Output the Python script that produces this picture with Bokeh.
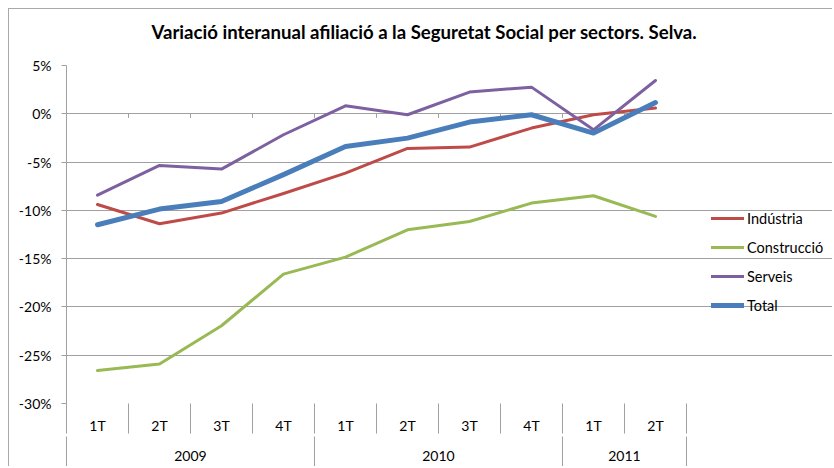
from bokeh.plotting import figure
from bokeh.models import (Range1d, LinearAxis, FixedTicker, Legend, LegendItem,
                          ColumnDataSource, Grid)
from bokeh.embed import file_html
from bokeh.resources import INLINE

# ---------------- data ----------------
years = ["2009", "2010", "2011"]
quarters_per_year = [4, 4, 2]
quarters = ["1T", "2T", "3T", "4T", "1T", "2T", "3T", "4T", "1T", "2T"]

industria = [-9.39, -11.39, -10.28, -8.25, -6.14, -3.59, -3.45, -1.48, -0.10, 0.59]
construccio = [-26.58, -25.92, -21.95, -16.60, -14.84, -12.01, -11.15, -9.25, -8.49, -10.63]
serveis = [-8.42, -5.35, -5.73, -2.17, 0.83, -0.10, 2.25, 2.76, -1.66, 3.45]
total = [-11.49, -9.87, -9.08, -6.30, -3.39, -2.52, -0.86, -0.10, -2.00, 1.17]

series_names = ["Indústria", "Construcció", "Serveis", "Total"]
series_values = [industria, construccio, serveis, total]
series_colors = ["#be4b48", "#98b954", "#7d60a0", "#4a7ebb"]
series_widths = [3, 3, 3, 5]

y_ticks = [-30, -25, -20, -15, -10, -5, 0, 5]
y_labels = ["-30%", "-25%", "-20%", "-15%", "-10%", "-5%", "0%", "5%"]

title_text = "Variació interanual afiliació a la Seguretat Social per sectors. Selva."

# ---------------- positions (category i is centred at 2*i+1) ----------------
n = len(quarters)
xc = [2 * i + 1 for i in range(n)]
bounds = [2 * i for i in range(n + 1)]
year_bounds = [0]
for k in quarters_per_year:
    year_bounds.append(year_bounds[-1] + 2 * k)
year_centers = [(year_bounds[i] + year_bounds[i + 1]) // 2 for i in range(len(years))]

FONT = "Lato"
GRID = "#a0a0a0"
TXT = "#000000"

W, H = 824, 458
left, top, bottom = 57, 56, 394
frame_w = W - left
x_end = bounds[-1] * frame_w / 620.0

p = figure(width=W, height=H, output_backend="svg", toolbar_location=None,
           x_range=Range1d(0, x_end), y_range=Range1d(-30, 5),
           x_axis_type=None, y_axis_type=None,
           min_border_left=left, min_border_top=top, min_border_right=0,
           min_border_bottom=H - bottom, outline_line_color=None,
           background_fill_color="white", border_fill_color="white")
p.styles = {"margin-left": "8px", "margin-top": "8px",
            "border-left": "1px solid #a8a8a8", "border-top": "1px solid #a8a8a8"}

# invisible spacer between the plot area and the title
spacer = LinearAxis(ticker=FixedTicker(ticks=[1], minor_ticks=[]),
                    major_label_overrides={1: ""})
spacer.axis_line_color = None
spacer.major_tick_line_color = None
spacer.minor_tick_line_color = None
spacer.major_tick_out = 15
spacer.major_tick_in = 0
spacer.major_label_standoff = 0
spacer.major_label_text_font_size = "0px"
spacer.major_label_text_color = None
p.add_layout(spacer, "above")

p.title.text = title_text
p.title.text_font = FONT
p.title.text_font_style = "bold"
p.title.text_font_size = "18.6px"
p.title.text_color = TXT
p.title.align = "left"
p.title.offset = 85
p.title.standoff = 16

# y axis
yax = LinearAxis(ticker=FixedTicker(ticks=y_ticks, minor_ticks=[]),
                 major_label_overrides={t: l for t, l in zip(y_ticks, y_labels)})
yax.axis_line_color = GRID
yax.major_tick_line_color = GRID
yax.major_tick_out = 5
yax.major_tick_in = 0
yax.minor_tick_line_color = None
yax.major_label_standoff = 10
yax.major_label_text_font = FONT
yax.major_label_text_font_size = "14px"
yax.major_label_text_color = TXT
p.add_layout(yax, "left")

# quarter axis
qax = LinearAxis(ticker=FixedTicker(ticks=xc, minor_ticks=bounds),
                 major_label_overrides={x: q for x, q in zip(xc, quarters)})
qax.axis_line_color = None
qax.major_tick_line_color = None
qax.minor_tick_line_color = GRID
qax.minor_tick_out = 30
qax.minor_tick_in = 0
qax.major_label_standoff = -17
qax.major_label_text_font = FONT
qax.major_label_text_font_size = "14px"
qax.major_label_text_color = TXT
p.add_layout(qax, "below")

# year axis
yrax = LinearAxis(ticker=FixedTicker(ticks=year_centers, minor_ticks=year_bounds),
                  major_label_overrides={x: y for x, y in zip(year_centers, years)})
yrax.axis_line_color = None
yrax.major_tick_line_color = None
yrax.minor_tick_line_color = GRID
yrax.minor_tick_out = 45
yrax.minor_tick_in = 0
yrax.major_label_standoff = -31
yrax.major_label_text_font = FONT
yrax.major_label_text_font_size = "14px"
yrax.major_label_text_color = TXT
p.add_layout(yrax, "below")

# horizontal gridlines limited to the plot area
grid = Grid(dimension=1, ticker=FixedTicker(ticks=y_ticks), bounds=(0, bounds[-1]))
grid.grid_line_color = GRID
grid.grid_line_width = 1
p.add_layout(grid)

# small tick marks on the 0% line (category boundaries)
inner = bounds[1:-1]
p.segment(x0=inner, y0=[0] * len(inner), x1=inner, y1=[-0.42] * len(inner),
          line_color=GRID, line_width=1)

items = []
for name, vals, col, w in zip(series_names, series_values, series_colors, series_widths):
    src = ColumnDataSource(dict(x=xc, y=vals))
    r = p.line("x", "y", source=src, line_color=col, line_width=w,
               line_join="round", line_cap="round")
    items.append(LegendItem(label=name, renderers=[r]))

leg = Legend(items=items, location=(645, 88))
leg.border_line_color = None
leg.background_fill_alpha = 0
leg.padding = 0
leg.margin = 0
leg.spacing = 9
leg.label_height = 20
leg.glyph_height = 20
leg.glyph_width = 33
leg.label_standoff = 3
leg.label_text_font = FONT
leg.label_text_font_size = "14.5px"
leg.label_text_color = TXT
p.add_layout(leg)

open("out.html", "w").write(file_html(p, INLINE))
